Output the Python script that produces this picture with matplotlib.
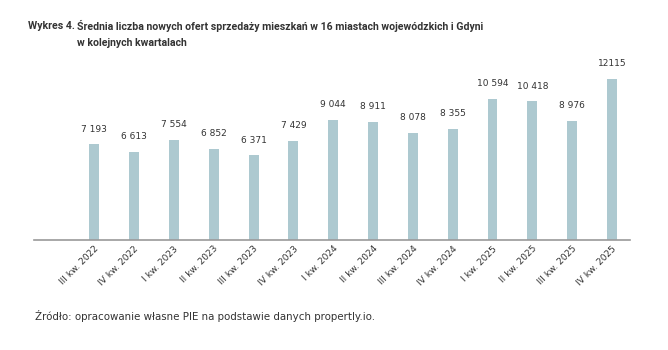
import matplotlib
matplotlib.use("Agg")
import matplotlib.pyplot as plt
import numpy as np

# dane: kwartaly i srednia liczba nowych ofert
kwartaly = ["III kw. 2022", "IV kw. 2022", "I kw. 2023", "II kw. 2023", "III kw. 2023",
            "IV kw. 2023", "I kw. 2024", "II kw. 2024", "III kw. 2024", "IV kw. 2024",
            "I kw. 2025", "II kw. 2025", "III kw. 2025", "IV kw. 2025"]
oferty = [7193, 6613, 7554, 6852, 6371, 7429, 9044, 8911, 8078, 8355,
          10594, 10418, 8976, 12115]

plt.rcParams['font.family'] = ['DejaVu Sans']

def formatuj(v):
    return f"{v:,}".replace(",", " ")

etykiety = [formatuj(v) for v in oferty]
etykiety[-1] = str(oferty[-1])

fig = plt.figure(figsize=(6.68, 3.5), dpi=100)
ax = fig.add_axes([0.051, 0.314, 0.892, 0.515])

x = np.arange(len(oferty))
ax.bar(x, oferty, width=0.25, color="#adc9d0")
for xi, v, t in zip(x, oferty, etykiety):
    ax.annotate(t, (xi, v), xytext=(0, 11), textcoords="offset points",
                ha="center", va="center", fontsize=6.5, color="#333333")

ax.set_xlim(-1.51, len(oferty) - 1 + 0.45)
ax.set_ylim(0, 13544)
ax.set_xticks(x)
ax.set_xticklabels(kwartaly, rotation=45, ha="right", rotation_mode="anchor",
                   fontsize=6.5, color="#333333")
ax.tick_params(axis="x", length=0, pad=3)
ax.set_yticks([])
for s in ["top", "right", "left"]:
    ax.spines[s].set_visible(False)
ax.spines["bottom"].set_color("#9a9a9a")
ax.spines["bottom"].set_linewidth(1.2)

tytul = dict(fontsize=7.6, fontweight="bold", color="#333333", va="center",
             family=["Roboto", "DejaVu Sans"])
fig.text(0.042, 0.926, "Wykres 4.", **tytul)
fig.text(0.115, 0.926, "Średnia liczba nowych ofert sprzedaży mieszkań w 16 miastach wojewódzkich i Gdyni", **tytul)
fig.text(0.115, 0.877, "w kolejnych kwartalach", **tytul)
fig.text(0.053, 0.097, "Źródło: opracowanie własne PIE na podstawie danych propertly.io.",
         fontsize=7.35, color="#333333", va="center")

fig.savefig("out.png", dpi=100)
